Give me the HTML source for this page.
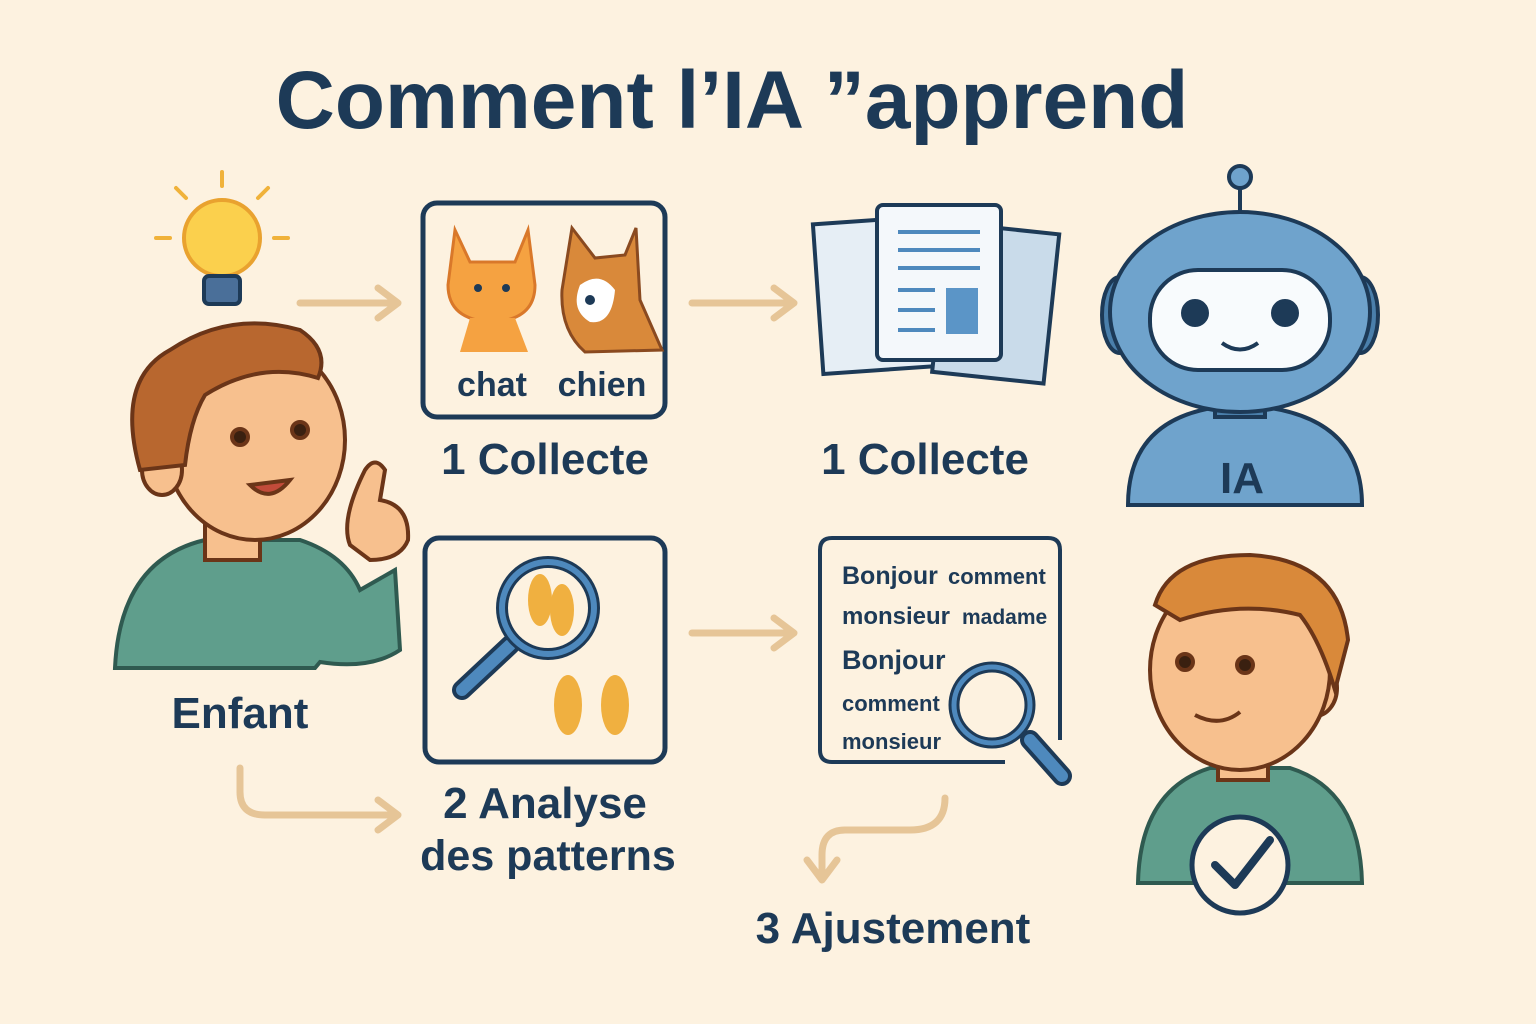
<!DOCTYPE html>
<html><head><meta charset="utf-8"><style>
html,body{margin:0;padding:0;background:#fdf2e0;}
svg{display:block}
text{font-family:"Liberation Sans",sans-serif;fill:#1d3a57;font-weight:bold}
</style></head><body>
<svg width="1536" height="1024" viewBox="0 0 1536 1024">
<rect width="1536" height="1024" fill="#fdf2e0"/>
<text x="732" y="128" font-size="82" text-anchor="middle">Comment l’IA ”apprend</text>

<g stroke="#1d3a57" stroke-width="4">
 <g stroke="#f0b23a" stroke-width="4" stroke-linecap="round">
  <line x1="222" y1="172" x2="222" y2="186"/><line x1="176" y1="188" x2="186" y2="198"/><line x1="268" y1="188" x2="258" y2="198"/>
  <line x1="156" y1="238" x2="170" y2="238"/><line x1="274" y1="238" x2="288" y2="238"/></g>
 <circle cx="222" cy="238" r="38" fill="#fbd04d" stroke="#e9a22f"/>
 <rect x="204" y="276" width="36" height="28" rx="5" fill="#4a6f99"/>
</g>

<g stroke="#e6c597" stroke-width="7" fill="none" stroke-linecap="round" stroke-linejoin="round">
 <path d="M300 303 H396 M378 288 L398 303 L378 318"/>
 <path d="M692 303 H792 M774 288 L794 303 L774 318"/>
 <path d="M692 633 H792 M774 618 L794 633 L774 648"/>
 <path d="M240 768 V792 Q240 815 265 815 H396 M378 800 L398 815 L378 830"/>
 <path d="M945 798 Q945 830 910 830 H845 Q822 830 822 855 V878 M807 860 L822 880 L837 860"/>
</g>

<g>
 <rect x="423" y="203" width="242" height="214" rx="14" fill="#fdf2e0" stroke="#1d3a57" stroke-width="5"/>
 <g>
  <path d="M455 230 L470 262 L515 262 L528 230 L535 285 Q535 320 492 322 Q448 320 448 285 Z" fill="#f5a241" stroke="#d9782a" stroke-width="3"/>
  <path d="M460 352 L470 318 H515 L528 352 Z" fill="#f5a241"/>
  <circle cx="478" cy="288" r="4" fill="#1d3a57"/><circle cx="506" cy="288" r="4" fill="#1d3a57"/>
 </g>
 <g>
  <path d="M572 228 L595 258 L625 255 L636 228 L640 300 L662 350 L585 352 Q560 330 562 290 Z" fill="#d9893a" stroke="#8a4a20" stroke-width="3"/>
  <path d="M580 285 Q600 270 615 290 Q612 325 590 322 Q570 310 580 285Z" fill="#fff"/>
  <circle cx="590" cy="300" r="5" fill="#1d3a57"/>
 </g>
 <text x="492" y="396" font-size="34" font-weight="normal" text-anchor="middle">chat</text>
 <text x="602" y="396" font-size="34" font-weight="normal" text-anchor="middle">chien</text>
</g>
<text x="545" y="474" font-size="44" text-anchor="middle">1 Collecte</text>

<g stroke="#1d3a57" stroke-width="4">
 <rect x="818" y="220" width="122" height="150" fill="#e6eef5" transform="rotate(-4 878 295)"/>
 <rect x="940" y="228" width="112" height="150" fill="#c9dbea" transform="rotate(6 995 300)"/>
 <rect x="877" y="205" width="124" height="155" rx="6" fill="#f4f8fb"/>
 <g stroke="#4e89bd" stroke-width="4"><line x1="898" y1="232" x2="980" y2="232"/><line x1="898" y1="250" x2="980" y2="250"/><line x1="898" y1="268" x2="980" y2="268"/><line x1="898" y1="290" x2="935" y2="290"/><line x1="898" y1="310" x2="935" y2="310"/><line x1="898" y1="330" x2="935" y2="330"/></g>
 <rect x="946" y="288" width="32" height="46" fill="#5b95c7" stroke="none"/>
</g>
<text x="925" y="474" font-size="44" text-anchor="middle">1 Collecte</text>

<g stroke="#1d3a57" stroke-width="4">
 <line x1="1240" y1="185" x2="1240" y2="215"/><circle cx="1240" cy="177" r="11" fill="#6fa3cc"/>
 <path d="M1128 505 Q1128 410 1240 405 Q1362 410 1362 505 Z" fill="#6fa3cc"/>
 <rect x="1215" y="395" width="50" height="22" fill="#4a7fab"/>
 <ellipse cx="1120" cy="315" rx="18" ry="38" fill="#4a7fab"/><ellipse cx="1360" cy="315" rx="18" ry="38" fill="#4a7fab"/>
 <ellipse cx="1240" cy="312" rx="130" ry="100" fill="#6fa3cc"/>
 <rect x="1150" y="270" width="180" height="100" rx="48" fill="#f8fbfd"/>
 <circle cx="1195" cy="313" r="12" fill="#1d3a57"/><circle cx="1285" cy="313" r="12" fill="#1d3a57"/>
 <path d="M1222 343 Q1240 356 1258 343" fill="none"/>
</g>
<text x="1242" y="493" font-size="44" text-anchor="middle">IA</text>

<g stroke="#6b3518" stroke-width="4">
 <path d="M115 668 Q120 560 205 540 H300 Q345 555 360 590 L395 570 L400 650 Q370 670 320 662 L315 668 Z" fill="#5f9e8c" stroke="#2f5a50"/>
 <rect x="205" y="515" width="55" height="45" fill="#f7c08e"/>
 <path d="M350 545 Q340 520 365 470 Q375 455 385 470 L380 500 Q410 505 408 540 Q400 560 370 560 Z" fill="#f7c08e"/>
 <ellipse cx="255" cy="440" rx="90" ry="100" fill="#f7c08e"/>
 <ellipse cx="162" cy="470" rx="20" ry="25" fill="#f7c08e"/>
 <path d="M140 470 Q115 380 170 350 Q230 310 300 330 Q330 350 318 378 Q260 360 205 395 Q190 420 185 465 Z" fill="#b8672f"/>
 <circle cx="240" cy="437" r="8" fill="#3a2010"/><circle cx="300" cy="430" r="8" fill="#3a2010"/>
 <path d="M250 485 Q270 505 290 480 Z" fill="#c24b3a"/>
</g>
<text x="240" y="728" font-size="44" text-anchor="middle">Enfant</text>

<g>
 <rect x="425" y="538" width="240" height="224" rx="14" fill="#fdf2e0" stroke="#1d3a57" stroke-width="5"/>
 <line x1="462" y1="690" x2="510" y2="645" stroke="#1d3a57" stroke-width="20" stroke-linecap="round"/>
 <line x1="462" y1="690" x2="510" y2="645" stroke="#4e89bd" stroke-width="12" stroke-linecap="round"/>
 <circle cx="548" cy="608" r="46" fill="#fdf2e0" stroke="#1d3a57" stroke-width="12"/>
 <circle cx="548" cy="608" r="46" fill="none" stroke="#4e89bd" stroke-width="6"/>
 <g fill="#f0b040"><ellipse cx="540" cy="600" rx="12" ry="26"/><ellipse cx="562" cy="610" rx="12" ry="26"/>
 <ellipse cx="568" cy="705" rx="14" ry="30"/><ellipse cx="615" cy="705" rx="14" ry="30"/></g>
</g>
<text x="545" y="818" font-size="44" text-anchor="middle">2 Analyse</text>
<text x="548" y="870" font-size="43" text-anchor="middle">des patterns</text>

<g>
 <path d="M1005 762 H832 Q820 762 820 750 V550 Q820 538 832 538 H1048 Q1060 538 1060 550 V740" fill="#fdf2e0" stroke="#1d3a57" stroke-width="4"/>
 <g font-weight="normal">
 <text x="842" y="584" font-size="25">Bonjour</text><text x="948" y="584" font-size="22">comment</text>
 <text x="842" y="624" font-size="24">monsieur</text><text x="962" y="624" font-size="21">madame</text>
 <text x="842" y="669" font-size="27">Bonjour</text>
 <text x="842" y="711" font-size="22">comment</text>
 <text x="842" y="749" font-size="22">monsieur</text></g>
 <line x1="1030" y1="740" x2="1062" y2="776" stroke="#1d3a57" stroke-width="20" stroke-linecap="round"/>
 <line x1="1030" y1="740" x2="1062" y2="776" stroke="#4e89bd" stroke-width="12" stroke-linecap="round"/>
 <circle cx="992" cy="705" r="38" fill="#fdf2e0" stroke="#1d3a57" stroke-width="11"/>
 <circle cx="992" cy="705" r="38" fill="none" stroke="#4e89bd" stroke-width="5"/>
</g>
<text x="893" y="943" font-size="44" text-anchor="middle">3 Ajustement</text>

<g stroke="#6b3518" stroke-width="4">
 <path d="M1138 883 Q1140 790 1210 768 H1290 Q1360 790 1362 883 Z" fill="#5f9e8c" stroke="#2f5a50"/>
 <rect x="1218" y="740" width="50" height="40" fill="#f7c08e"/>
 <ellipse cx="1315" cy="688" rx="22" ry="28" fill="#f7c08e"/>
 <ellipse cx="1240" cy="670" rx="90" ry="100" fill="#f7c08e"/>
 <path d="M1155 605 Q1170 555 1250 555 Q1340 560 1348 640 L1335 690 Q1320 640 1300 615 Q1240 600 1180 620 Z" fill="#d9893a"/>
 <circle cx="1185" cy="662" r="8" fill="#3a2010"/><circle cx="1245" cy="665" r="8" fill="#3a2010"/>
 <path d="M1195 715 Q1220 728 1240 712" fill="none"/>
 <circle cx="1240" cy="865" r="48" fill="#fdf2e0" stroke="#1d3a57" stroke-width="5"/>
 <path d="M1215 865 L1235 885 L1270 840" fill="none" stroke="#1d3a57" stroke-width="8" stroke-linecap="round" stroke-linejoin="round"/>
</g>
</svg>
</body></html>
